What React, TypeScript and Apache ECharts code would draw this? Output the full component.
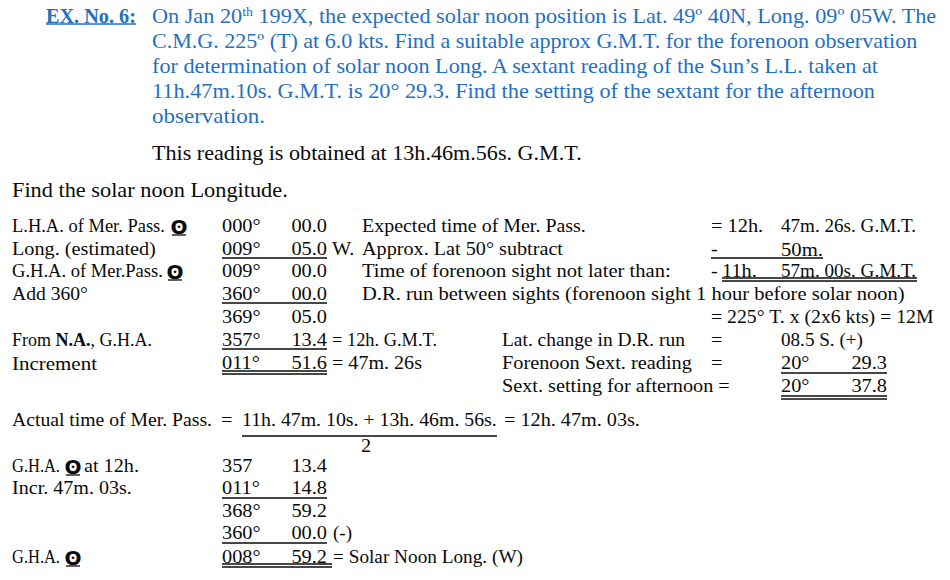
import React, { useEffect, useRef } from "react";
import * as echarts from "echarts";

const FONT = "'Liberation Serif', serif";
const SUN_FONT = "'DejaVu Sans', sans-serif";
const BLUE = "#1f6fc4";
const BLACK = "#0a0a0a";
const FS_BIG = 21;
const SX_BIG = 1.058;
const FS = 18.5;
const SX = 1.1;
const SUP_FS = 13;

// ---------- text content ----------
const headingLabel = "EX. No. 6:";
const questionLines = [
  "On Jan 20{sup|th} 199X, the expected solar noon position is Lat. 49º 40N, Long. 09º 05W. The",
  "C.M.G. 225º (T) at 6.0 kts. Find a suitable approx G.M.T. for the forenoon observation",
  "for determination of solar noon Long. A sextant reading of the Sun’s L.L. taken at",
  "11h.47m.10s. G.M.T. is 20° 29.3. Find the setting of the sextant for the afternoon",
  "observation.",
];
const readingNote = "This reading is obtained at 13h.46m.56s. G.M.T.";
const taskLine = "Find the solar noon Longitude.";

const SUN = "ʘ";

// upper working table
const tableLabels = [
  "L.H.A. of Mer. Pass.",
  "Long. (estimated)",
  "G.H.A. of Mer.Pass.",
  "Add 360°",
  "",
  "From {b|N.A.}, G.H.A.",
  "Increment",
];
const tableDegrees = ["000°", "009°", "009°", "360°", "369°", "357°", "011°"];
const tableMinutes = ["00.0", "05.0", "00.0", "00.0", "05.0", "13.4", "51.6"];
const tableSuffix = ["", "W.", "", "", "", "= 12h. G.M.T.", "= 47m. 26s"];

const timeLabels = [
  "Expected time of Mer. Pass.",
  "Approx. Lat 50° subtract",
  "Time of forenoon sight not later than:",
  "D.R. run between sights (forenoon sight 1 hour before solar noon)",
];
const timeSigns = ["= 12h.", "-", "-", ""];
const timeHours = ["", "", "11h.", ""];
const timeValues = ["47m. 26s. G.M.T.", "50m.", "57m. 00s. G.M.T.", ""];
const runResult = "= 225° T. x (2x6 kts) = 12M";

const sextLabels = ["Lat. change in D.R. run", "Forenoon Sext. reading", "Sext. setting for afternoon ="];
const sextEquals = ["=", "=", ""];
const sextDegrees = ["08.5 S. (+)", "20°", "20°"];
const sextMinutes = ["", "29.3", "37.8"];

// lower working
const actualLabel = "Actual time of Mer. Pass.";
const actualNumerator = "11h. 47m. 10s. + 13h. 46m. 56s.";
const actualDenominator = "2";
const actualResult = "= 12h. 47m. 03s.";

const lowerLabels = ["G.H.A.", "Incr. 47m. 03s.", "", "", "G.H.A."];
const lowerLabelTails = ["at 12h.", "", "", "", ""];
const lowerDegrees = ["357", "011°", "368°", "360°", "008°"];
const lowerMinutes = ["13.4", "14.8", "59.2", "00.0", "59.2"];
const lowerSuffix = ["", "", "", "(-)", "= Solar Noon Long. (W)"];

// ---------- layout (target widths in px) ----------
const questionWidths = [785, 766, 729, 723, 113];
const tableLabelWidths = [153, 144, 151, 76, 0, 140, 85];
const tableSuffixWidths = [0, 0, 0, 0, 0, 105, 90];
const timeLabelWidths = [224, 201, 309, 543];
const timeValueWidths = [135, 42, 135, 0];
const sextLabelWidths = [183, 190, 228];
const lowerLabelWidths = [48, 120, 0, 0, 48];
const lowerSuffixWidths = [0, 0, 0, 19, 190];

// ---------- helpers ----------
let measureCtx: CanvasRenderingContext2D | null = null;
function segWidth(s: string, fs: number, bold: boolean) {
  if (!s) return 0;
  if (!measureCtx) measureCtx = document.createElement("canvas").getContext("2d");
  if (!measureCtx) return s.length * fs * 0.45;
  measureCtx.font = `${bold ? "bold " : ""}${fs}px 'Liberation Serif'`;
  return measureCtx.measureText(s).width;
}
function richWidth(text: string, fs: number, bold: boolean) {
  const re = /\{(\w+)\|([^}]*)\}/g;
  let total = 0;
  let last = 0;
  let m: RegExpExecArray | null;
  while ((m = re.exec(text))) {
    total += segWidth(text.slice(last, m.index), fs, bold);
    const st = m[1];
    total += segWidth(m[2], st === "sup" ? SUP_FS : fs, st === "b" || bold);
    last = re.lastIndex;
  }
  total += segWidth(text.slice(last), fs, bold);
  return total;
}

function txt(text: string, x: number, y: number, opt: any = {}) {
  const big = !!opt.big;
  const fs = big ? FS_BIG : FS;
  const fill = opt.fill || BLACK;
  const bold = !!opt.bold;
  let sx = big ? SX_BIG : SX;
  if (opt.w) {
    const mw = richWidth(text, fs, bold);
    if (mw > 0) sx = opt.w / mw;
  }
  return {
    type: "text",
    x,
    y,
    scaleX: sx,
    silent: true,
    style: {
      text,
      fontFamily: FONT,
      fontSize: fs,
      fill,
      fontWeight: bold ? "bold" : "normal",
      align: opt.align || "left",
      verticalAlign: "middle",
      rich: {
        b: { fontFamily: FONT, fontWeight: "bold", fontSize: fs, fill },
        sup: { fontFamily: FONT, fontSize: SUP_FS, fill, verticalAlign: "top", padding: [0, 0, 8, 0] },
      },
    },
  };
}

function sun(cx: number, y: number) {
  return {
    type: "text",
    x: cx,
    y: y + 0.5,
    silent: true,
    style: {
      text: SUN,
      fontFamily: SUN_FONT,
      fontWeight: "bold",
      fontSize: 20,
      fill: BLACK,
      align: "center",
      verticalAlign: "middle",
    },
  };
}

function rule(x1: number, x2: number, y: number, color = BLACK, w = 1.3) {
  return {
    type: "line",
    silent: true,
    shape: { x1, y1: y, x2, y2: y },
    style: { stroke: color, lineWidth: w },
  };
}

function buildGraphics() {
  const g: any[] = [];
  // heading
  g.push(txt(headingLabel, 46, 16, { fill: BLUE, bold: true, big: true, w: 90 }));
  g.push(rule(46, 136, 24, BLUE, 1.5));
  const qY = [16, 41, 66, 91, 116];
  questionLines.forEach((l, i) =>
    g.push(txt(l, 152, qY[i], { fill: BLUE, big: true, w: questionWidths[i] }))
  );
  g.push(txt(readingNote, 152, 153, { big: true, w: 430 }));
  g.push(txt(taskLine, 12, 190, { big: true, w: 276 }));

  // upper table
  const rowY = [226, 249, 271, 294, 317, 340, 363, 386];
  const labX = 12, degX = 222, minR = 327, sufX = 332;
  tableLabels.forEach((l, i) => {
    if (l) g.push(txt(l, labX, rowY[i], { w: tableLabelWidths[i] }));
    g.push(txt(tableDegrees[i], degX, rowY[i]));
    g.push(txt(tableMinutes[i], minR, rowY[i], { align: "right" }));
    if (tableSuffix[i]) g.push(txt(tableSuffix[i], sufX, rowY[i], { w: tableSuffixWidths[i] }));
  });
  g.push(sun(179, rowY[0]));
  g.push(sun(175, rowY[2]));
  g.push(rule(172, 186, 235));
  g.push(rule(168, 182, 280));
  // column rules
  g.push(rule(degX, minR, 258));
  g.push(rule(degX, minR, 303));
  g.push(rule(degX, minR, 349));
  g.push(rule(degX, minR, 371));
  g.push(rule(degX, minR, 374));

  const tLabX = 362, signX = 711, hourX = 722, valX = 781;
  timeLabels.forEach((l, i) => {
    g.push(txt(l, tLabX, rowY[i], { w: timeLabelWidths[i] }));
    if (timeSigns[i]) g.push(txt(timeSigns[i], signX, rowY[i]));
    if (timeHours[i]) g.push(txt(timeHours[i], hourX, rowY[i]));
    if (timeValues[i]) g.push(txt(timeValues[i], valX, rowY[i], { w: timeValueWidths[i] }));
  });
  g.push(rule(711, 823, 258));
  g.push(rule(722, 917, 278));
  g.push(rule(722, 917, 281));
  g.push(txt(runResult, signX, rowY[4], { w: 223 }));

  const sLabX = 502, sMinR = 887;
  sextLabels.forEach((l, i) => {
    const y = rowY[5 + i];
    g.push(txt(l, sLabX, y, { w: sextLabelWidths[i] }));
    if (sextEquals[i]) g.push(txt(sextEquals[i], signX, y));
    g.push(txt(sextDegrees[i], valX, y, i === 0 ? { w: 82 } : {}));
    if (sextMinutes[i]) g.push(txt(sextMinutes[i], sMinR, y, { align: "right" }));
  });
  g.push(rule(valX, sMinR, 373));
  g.push(rule(valX, sMinR, 396));
  g.push(rule(valX, sMinR, 399));

  // lower working
  g.push(txt(actualLabel, 12, 420, { w: 200 }));
  g.push(txt("=", 221, 420));
  g.push(txt(actualNumerator, 242, 420, { w: 255 }));
  g.push(rule(242, 497, 436));
  g.push(txt(actualResult, 504, 420, { w: 136 }));
  g.push(txt(actualDenominator, 366, 446, { align: "center" }));

  const lowY = [466, 488, 511, 533, 557];
  lowerLabels.forEach((l, i) => {
    if (l) g.push(txt(l, labX, lowY[i], { w: lowerLabelWidths[i] }));
    if (lowerLabelTails[i]) g.push(txt(lowerLabelTails[i], 84, lowY[i], { w: 55 }));
    g.push(txt(lowerDegrees[i], degX, lowY[i]));
    g.push(txt(lowerMinutes[i], minR, lowY[i], { align: "right" }));
    if (lowerSuffix[i]) g.push(txt(lowerSuffix[i], 333, lowY[i], { w: lowerSuffixWidths[i] }));
  });
  g.push(sun(73, lowY[0]));
  g.push(sun(73, lowY[4]));
  g.push(rule(66, 80, 475));
  g.push(rule(66, 80, 566));
  g.push(rule(degX, minR, 498));
  g.push(rule(degX, minR, 543));
  g.push(rule(degX, minR + 5, 564));
  g.push(rule(degX, minR + 5, 567));
  return g;
}

export default function App() {
  const ref = useRef<HTMLDivElement>(null);
  useEffect(() => {
    if (!ref.current) return;
    const chart = echarts.init(ref.current, null, { renderer: "svg" });
    chart.setOption({
      animation: false,
      backgroundColor: "#ffffff",
      graphic: buildGraphics(),
    });
    return () => chart.dispose();
  }, []);
  return (
    <div
      ref={ref}
      style={{ position: "fixed", left: 0, top: 0, width: 950, height: 580, background: "#fff" }}
    />
  );
}
